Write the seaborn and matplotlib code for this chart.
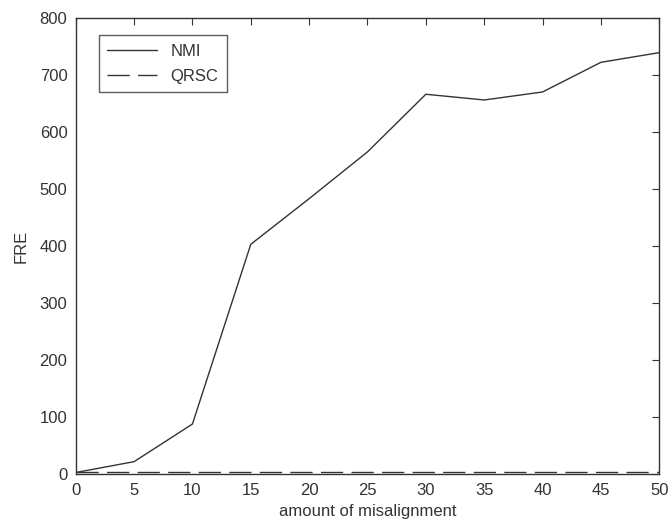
import numpy as np
import pandas as pd
import matplotlib
matplotlib.use("Agg")
import matplotlib.pyplot as plt
import seaborn as sns

# data
misalignment = [0, 5, 10, 15, 20, 25, 30, 35, 40, 45, 50]
nmi = [3, 22, 88, 403, 483, 565, 666, 656, 670, 722, 739]
qrsc = [4, 4, 4, 4, 4, 4, 4, 4, 4, 4, 4]
method_names = ["NMI", "QRSC"]

df = pd.DataFrame({
    "amount of misalignment": misalignment * 2,
    "FRE": nmi + qrsc,
    "method": [method_names[0]] * len(nmi) + [method_names[1]] * len(qrsc),
})

sns.set_style("white")
plt.rcParams["font.family"] = ["Liberation Sans", "DejaVu Sans"]
plt.rcParams["text.color"] = "#333333"
plt.rcParams["axes.labelcolor"] = "#333333"
plt.rcParams["xtick.color"] = "#333333"
plt.rcParams["ytick.color"] = "#333333"

fig = plt.figure(figsize=(6.7, 5.24), dpi=100)
ax = fig.add_axes([0.113, 0.095, 0.871, 0.871])

sns.lineplot(
    data=df, x="amount of misalignment", y="FRE", style="method",
    dashes={"NMI": "", "QRSC": (16, 6)}, color="#333333", linewidth=1.0, ax=ax,
)

ax.set_xlim(0, 50)
ax.set_ylim(0, 800)
ax.set_xticks(range(0, 51, 5))
ax.set_yticks(range(0, 801, 100))
ax.tick_params(direction="in", length=5, top=True, right=True, labelsize=12, pad=6)
for s in ax.spines.values():
    s.set_color("#333333")
    s.set_linewidth(1.0)
ax.set_xlabel("amount of misalignment", fontsize=12, labelpad=5)
ax.set_ylabel("FRE", fontsize=12, labelpad=8)

leg = ax.legend(loc="upper left", bbox_to_anchor=(0.025, 0.98), fontsize=12,
                frameon=True, fancybox=False, edgecolor="#333333",
                handlelength=3.0, borderpad=0.5, labelspacing=0.6)
leg.get_frame().set_linewidth(1.0)

fig.savefig("out.png", dpi=100, facecolor="white")
